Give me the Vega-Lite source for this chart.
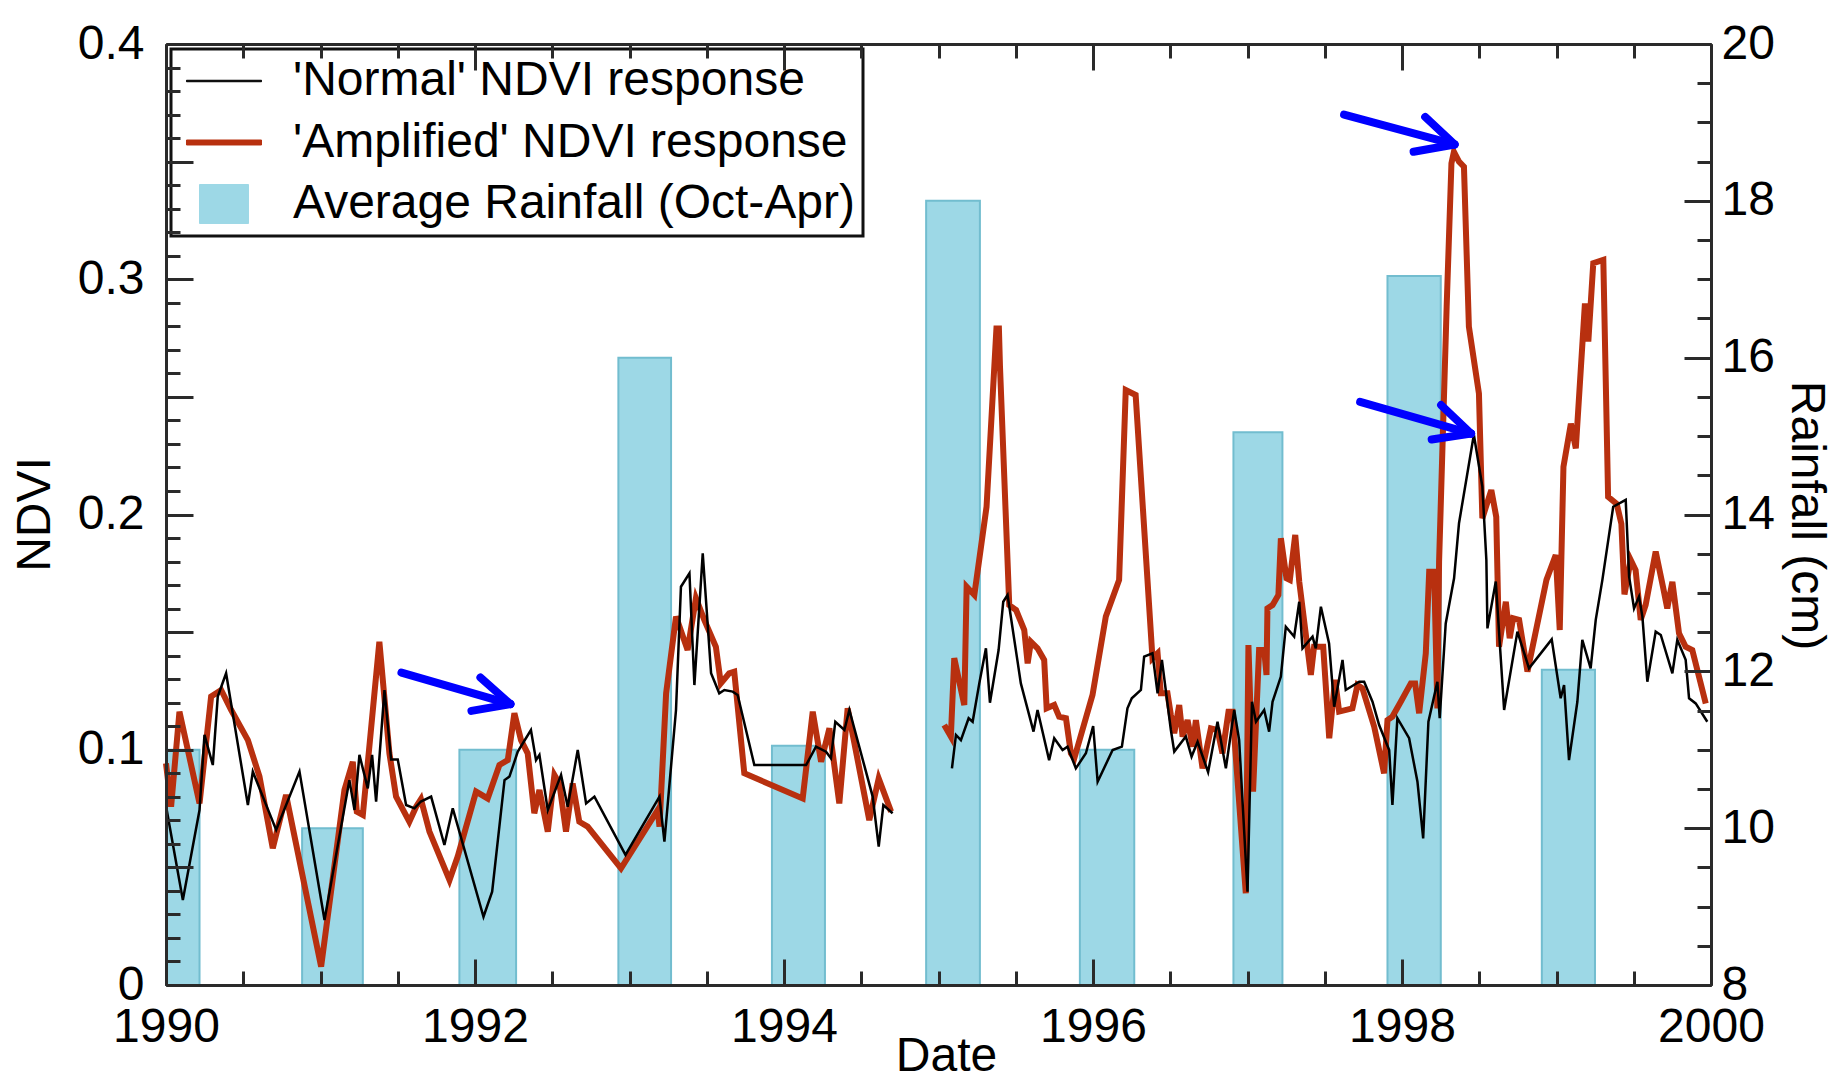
{
  "$schema": "https://vega.github.io/schema/vega-lite/v6.json",
  "width": 1545,
  "height": 941,
  "autosize": {"type": "none"},
  "padding": {"left": 166, "top": 44, "right": 126, "bottom": 102},
  "background": "#ffffff",
  "config": {
    "font": "Liberation Sans",
    "view": {"stroke": null},
    "axis": {
      "labelFont": "Liberation Sans", "labelFontSize": 48, "labelColor": "#000000",
      "titleFont": "Liberation Sans", "titleFontSize": 48, "titleFontWeight": "normal", "titleColor": "#000000",
      "domainColor": "#2a2a2a", "domainWidth": 3, "tickColor": "#2a2a2a", "tickWidth": 3,
      "grid": false, "labelOverlap": false, "labelFlush": false, "labelBound": false
    }
  },
  "datasets": {
    "rain": [
      {"start": 1990.0, "end": 1990.217, "rain": 11.0},
      {"start": 1990.881, "end": 1991.274, "rain": 10.0},
      {"start": 1991.899, "end": 1992.266, "rain": 11.0},
      {"start": 1992.928, "end": 1993.269, "rain": 16.0},
      {"start": 1993.922, "end": 1994.265, "rain": 11.05},
      {"start": 1994.920, "end": 1995.268, "rain": 18.0},
      {"start": 1995.915, "end": 1996.267, "rain": 11.0},
      {"start": 1996.909, "end": 1997.226, "rain": 15.05},
      {"start": 1997.906, "end": 1998.251, "rain": 17.04},
      {"start": 1998.905, "end": 1999.249, "rain": 12.02}
    ],
    "normal": [
      {"t":1990.001,"v":0.0758,"seg":1},{"t":1990.109,"v":0.0361,"seg":1},{"t":1990.217,"v":0.0744,"seg":1},
      {"t":1990.249,"v":0.1063,"seg":1},{"t":1990.303,"v":0.0935,"seg":1},{"t":1990.335,"v":0.1226,"seg":1},
      {"t":1990.389,"v":0.1325,"seg":1},{"t":1990.530,"v":0.0765,"seg":1},{"t":1990.562,"v":0.0907,"seg":1},
      {"t":1990.713,"v":0.0659,"seg":1},{"t":1990.864,"v":0.0907,"seg":1},{"t":1991.026,"v":0.0276,"seg":1},
      {"t":1991.187,"v":0.0871,"seg":1},{"t":1991.220,"v":0.0744,"seg":1},{"t":1991.252,"v":0.0978,"seg":1},
      {"t":1991.306,"v":0.0836,"seg":1},{"t":1991.334,"v":0.0978,"seg":1},{"t":1991.360,"v":0.0779,"seg":1},
      {"t":1991.414,"v":0.1254,"seg":1},{"t":1991.457,"v":0.0959,"seg":1},{"t":1991.500,"v":0.0959,"seg":1},
      {"t":1991.554,"v":0.0765,"seg":1},{"t":1991.608,"v":0.0751,"seg":1},{"t":1991.650,"v":0.0780,"seg":1},
      {"t":1991.716,"v":0.0801,"seg":1},{"t":1991.802,"v":0.0595,"seg":1},{"t":1991.856,"v":0.0751,"seg":1},
      {"t":1992.055,"v":0.0290,"seg":1},{"t":1992.111,"v":0.0397,"seg":1},{"t":1992.191,"v":0.0871,"seg":1},
      {"t":1992.223,"v":0.0886,"seg":1},{"t":1992.277,"v":0.0992,"seg":1},{"t":1992.362,"v":0.1084,"seg":1},
      {"t":1992.395,"v":0.0956,"seg":1},{"t":1992.417,"v":0.0978,"seg":1},{"t":1992.471,"v":0.0744,"seg":1},
      {"t":1992.557,"v":0.0893,"seg":1},{"t":1992.600,"v":0.0758,"seg":1},{"t":1992.665,"v":0.0999,"seg":1},
      {"t":1992.719,"v":0.0772,"seg":1},{"t":1992.773,"v":0.0801,"seg":1},{"t":1992.974,"v":0.0553,"seg":1},
      {"t":1993.194,"v":0.0801,"seg":1},{"t":1993.226,"v":0.0609,"seg":1},{"t":1993.301,"v":0.1169,"seg":1},
      {"t":1993.333,"v":0.1693,"seg":1},{"t":1993.388,"v":0.1750,"seg":1},{"t":1993.420,"v":0.1275,"seg":1},
      {"t":1993.474,"v":0.1835,"seg":1},{"t":1993.528,"v":0.1325,"seg":1},{"t":1993.581,"v":0.1240,"seg":1},
      {"t":1993.614,"v":0.1254,"seg":1},{"t":1993.668,"v":0.1247,"seg":1},{"t":1993.700,"v":0.1233,"seg":1},
      {"t":1993.808,"v":0.0935,"seg":1},{"t":1994.143,"v":0.0935,"seg":1},{"t":1994.207,"v":0.1013,"seg":1},
      {"t":1994.272,"v":0.0992,"seg":1},{"t":1994.304,"v":0.0964,"seg":1},{"t":1994.332,"v":0.1119,"seg":1},
      {"t":1994.391,"v":0.1084,"seg":1},{"t":1994.423,"v":0.1169,"seg":1},{"t":1994.574,"v":0.0801,"seg":1},
      {"t":1994.613,"v":0.0588,"seg":1},{"t":1994.643,"v":0.0765,"seg":1},{"t":1994.703,"v":0.0730,"seg":1},
      {"t":1995.087,"v":0.0921,"seg":2},{"t":1995.113,"v":0.1063,"seg":2},{"t":1995.145,"v":0.1041,"seg":2},
      {"t":1995.195,"v":0.1134,"seg":2},{"t":1995.221,"v":0.1119,"seg":2},{"t":1995.264,"v":0.1282,"seg":2},
      {"t":1995.307,"v":0.1431,"seg":2},{"t":1995.333,"v":0.1200,"seg":2},{"t":1995.389,"v":0.1424,"seg":2},
      {"t":1995.419,"v":0.1629,"seg":2},{"t":1995.447,"v":0.1658,"seg":2},{"t":1995.533,"v":0.1282,"seg":2},
      {"t":1995.615,"v":0.1077,"seg":2},{"t":1995.641,"v":0.1169,"seg":2},{"t":1995.716,"v":0.0956,"seg":2},
      {"t":1995.749,"v":0.1049,"seg":2},{"t":1995.803,"v":0.0999,"seg":2},{"t":1995.835,"v":0.1013,"seg":2},
      {"t":1995.889,"v":0.0921,"seg":2},{"t":1995.954,"v":0.0985,"seg":2},{"t":1996.001,"v":0.1101,"seg":2},
      {"t":1996.030,"v":0.0864,"seg":2},{"t":1996.127,"v":0.0999,"seg":2},{"t":1996.187,"v":0.1013,"seg":2},
      {"t":1996.223,"v":0.1176,"seg":2},{"t":1996.251,"v":0.1219,"seg":2},{"t":1996.310,"v":0.1254,"seg":2},
      {"t":1996.331,"v":0.1396,"seg":2},{"t":1996.385,"v":0.1410,"seg":2},{"t":1996.418,"v":0.1240,"seg":2},
      {"t":1996.446,"v":0.1382,"seg":2},{"t":1996.504,"v":0.1084,"seg":2},{"t":1996.526,"v":0.0992,"seg":2},
      {"t":1996.601,"v":0.1056,"seg":2},{"t":1996.638,"v":0.0971,"seg":2},{"t":1996.677,"v":0.1034,"seg":2},
      {"t":1996.745,"v":0.0905,"seg":2},{"t":1996.806,"v":0.1119,"seg":2},{"t":1996.860,"v":0.0921,"seg":2},
      {"t":1996.914,"v":0.1169,"seg":2},{"t":1996.946,"v":0.1041,"seg":2},{"t":1997.000,"v":0.0397,"seg":2},
      {"t":1997.029,"v":0.1204,"seg":2},{"t":1997.055,"v":0.1119,"seg":2},{"t":1997.108,"v":0.1169,"seg":2},
      {"t":1997.140,"v":0.1077,"seg":2},{"t":1997.162,"v":0.1204,"seg":2},{"t":1997.216,"v":0.1311,"seg":2},
      {"t":1997.248,"v":0.1523,"seg":2},{"t":1997.302,"v":0.1481,"seg":2},{"t":1997.335,"v":0.1629,"seg":2},
      {"t":1997.356,"v":0.1431,"seg":2},{"t":1997.421,"v":0.1481,"seg":2},{"t":1997.442,"v":0.1431,"seg":2},
      {"t":1997.475,"v":0.1608,"seg":2},{"t":1997.528,"v":0.1452,"seg":2},{"t":1997.561,"v":0.1183,"seg":2},
      {"t":1997.615,"v":0.1382,"seg":2},{"t":1997.636,"v":0.1254,"seg":2},{"t":1997.723,"v":0.1289,"seg":2},
      {"t":1997.755,"v":0.1289,"seg":2},{"t":1997.809,"v":0.1204,"seg":2},{"t":1997.852,"v":0.1105,"seg":2},
      {"t":1997.917,"v":0.0999,"seg":2},{"t":1997.938,"v":0.0765,"seg":2},{"t":1997.970,"v":0.1134,"seg":2},
      {"t":1998.046,"v":0.1049,"seg":2},{"t":1998.100,"v":0.0864,"seg":2},{"t":1998.137,"v":0.0623,"seg":2},
      {"t":1998.171,"v":0.1119,"seg":2},{"t":1998.229,"v":0.1289,"seg":2},{"t":1998.244,"v":0.1134,"seg":2},
      {"t":1998.283,"v":0.1537,"seg":2},{"t":1998.337,"v":0.1729,"seg":2},{"t":1998.369,"v":0.1963,"seg":2},
      {"t":1998.465,"v":0.2339,"seg":2},{"t":1998.520,"v":0.2119,"seg":2},{"t":1998.546,"v":0.1807,"seg":2},
      {"t":1998.553,"v":0.1516,"seg":2},{"t":1998.607,"v":0.1715,"seg":2},{"t":1998.661,"v":0.1169,"seg":2},
      {"t":1998.747,"v":0.1502,"seg":2},{"t":1998.822,"v":0.1346,"seg":2},{"t":1998.969,"v":0.1469,"seg":2},
      {"t":1999.027,"v":0.1219,"seg":2},{"t":1999.049,"v":0.1275,"seg":2},{"t":1999.081,"v":0.0956,"seg":2},
      {"t":1999.135,"v":0.1204,"seg":2},{"t":1999.167,"v":0.1467,"seg":2},{"t":1999.221,"v":0.1346,"seg":2},
      {"t":1999.254,"v":0.1552,"seg":2},{"t":1999.297,"v":0.1722,"seg":2},{"t":1999.367,"v":0.2033,"seg":2},
      {"t":1999.448,"v":0.2062,"seg":2},{"t":1999.470,"v":0.1736,"seg":2},{"t":1999.502,"v":0.1601,"seg":2},
      {"t":1999.534,"v":0.1651,"seg":2},{"t":1999.556,"v":0.1566,"seg":2},{"t":1999.588,"v":0.1289,"seg":2},
      {"t":1999.642,"v":0.1502,"seg":2},{"t":1999.675,"v":0.1488,"seg":2},{"t":1999.750,"v":0.1325,"seg":2},
      {"t":1999.782,"v":0.1467,"seg":2},{"t":1999.836,"v":0.1382,"seg":2},{"t":1999.858,"v":0.1219,"seg":2},
      {"t":1999.901,"v":0.1197,"seg":2},{"t":1999.976,"v":0.1119,"seg":2}
    ],
    "amplified": [
      {"t":1990.000,"v":0.0942,"seg":1},{"t":1990.033,"v":0.0758,"seg":1},{"t":1990.087,"v":0.1162,"seg":1},
      {"t":1990.217,"v":0.0772,"seg":1},{"t":1990.292,"v":0.1226,"seg":1},{"t":1990.357,"v":0.1254,"seg":1},
      {"t":1990.422,"v":0.1169,"seg":1},{"t":1990.530,"v":0.1041,"seg":1},{"t":1990.605,"v":0.0886,"seg":1},
      {"t":1990.691,"v":0.0581,"seg":1},{"t":1990.777,"v":0.0808,"seg":1},{"t":1991.004,"v":0.0078,"seg":1},
      {"t":1991.155,"v":0.0829,"seg":1},{"t":1991.209,"v":0.0949,"seg":1},{"t":1991.235,"v":0.0737,"seg":1},
      {"t":1991.274,"v":0.0723,"seg":1},{"t":1991.381,"v":0.1459,"seg":1},{"t":1991.446,"v":0.0985,"seg":1},
      {"t":1991.489,"v":0.0801,"seg":1},{"t":1991.575,"v":0.0694,"seg":1},{"t":1991.619,"v":0.0758,"seg":1},
      {"t":1991.650,"v":0.0790,"seg":1},{"t":1991.705,"v":0.0652,"seg":1},{"t":1991.835,"v":0.0446,"seg":1},
      {"t":1991.888,"v":0.0546,"seg":1},{"t":1992.007,"v":0.0822,"seg":1},{"t":1992.082,"v":0.0793,"seg":1},
      {"t":1992.158,"v":0.0935,"seg":1},{"t":1992.212,"v":0.0956,"seg":1},{"t":1992.255,"v":0.1155,"seg":1},
      {"t":1992.298,"v":0.1041,"seg":1},{"t":1992.341,"v":0.0985,"seg":1},{"t":1992.384,"v":0.0730,"seg":1},
      {"t":1992.417,"v":0.0829,"seg":1},{"t":1992.471,"v":0.0652,"seg":1},{"t":1992.514,"v":0.0893,"seg":1},
      {"t":1992.546,"v":0.0857,"seg":1},{"t":1992.589,"v":0.0652,"seg":1},{"t":1992.632,"v":0.0857,"seg":1},
      {"t":1992.675,"v":0.0694,"seg":1},{"t":1992.729,"v":0.0673,"seg":1},{"t":1992.945,"v":0.0496,"seg":1},
      {"t":1993.183,"v":0.0744,"seg":1},{"t":1993.194,"v":0.0673,"seg":1},{"t":1993.237,"v":0.1240,"seg":1},
      {"t":1993.301,"v":0.1566,"seg":1},{"t":1993.376,"v":0.1424,"seg":1},{"t":1993.430,"v":0.1644,"seg":1},
      {"t":1993.484,"v":0.1552,"seg":1},{"t":1993.559,"v":0.1438,"seg":1},{"t":1993.591,"v":0.1282,"seg":1},
      {"t":1993.645,"v":0.1325,"seg":1},{"t":1993.678,"v":0.1332,"seg":1},{"t":1993.743,"v":0.0900,"seg":1},
      {"t":1994.121,"v":0.0793,"seg":1},{"t":1994.186,"v":0.1162,"seg":1},{"t":1994.240,"v":0.0949,"seg":1},
      {"t":1994.294,"v":0.1091,"seg":1},{"t":1994.358,"v":0.0772,"seg":1},{"t":1994.412,"v":0.1176,"seg":1},
      {"t":1994.552,"v":0.0701,"seg":1},{"t":1994.613,"v":0.0878,"seg":1},{"t":1994.693,"v":0.0737,"seg":1},
      {"t":1995.037,"v":0.1105,"seg":2},{"t":1995.080,"v":0.1056,"seg":2},{"t":1995.102,"v":0.1389,"seg":2},
      {"t":1995.167,"v":0.1190,"seg":2},{"t":1995.182,"v":0.1693,"seg":2},{"t":1995.232,"v":0.1658,"seg":2},
      {"t":1995.311,"v":0.2033,"seg":2},{"t":1995.375,"v":0.2791,"seg":2},{"t":1995.391,"v":0.2791,"seg":2},
      {"t":1995.398,"v":0.2628,"seg":2},{"t":1995.458,"v":0.1615,"seg":2},{"t":1995.502,"v":0.1594,"seg":2},
      {"t":1995.555,"v":0.1509,"seg":2},{"t":1995.577,"v":0.1367,"seg":2},{"t":1995.598,"v":0.1459,"seg":2},
      {"t":1995.641,"v":0.1431,"seg":2},{"t":1995.684,"v":0.1382,"seg":2},{"t":1995.700,"v":0.1176,"seg":2},
      {"t":1995.749,"v":0.1190,"seg":2},{"t":1995.781,"v":0.1141,"seg":2},{"t":1995.825,"v":0.1134,"seg":2},
      {"t":1995.857,"v":0.0985,"seg":2},{"t":1995.879,"v":0.0964,"seg":2},{"t":1995.997,"v":0.1233,"seg":2},
      {"t":1996.083,"v":0.1566,"seg":2},{"t":1996.169,"v":0.1722,"seg":2},{"t":1996.212,"v":0.2529,"seg":2},
      {"t":1996.276,"v":0.2508,"seg":2},{"t":1996.385,"v":0.1389,"seg":2},{"t":1996.418,"v":0.1410,"seg":2},
      {"t":1996.439,"v":0.1240,"seg":2},{"t":1996.482,"v":0.1240,"seg":2},{"t":1996.504,"v":0.1148,"seg":2},
      {"t":1996.526,"v":0.1070,"seg":2},{"t":1996.558,"v":0.1190,"seg":2},{"t":1996.580,"v":0.1056,"seg":2},
      {"t":1996.612,"v":0.1126,"seg":2},{"t":1996.645,"v":0.1013,"seg":2},{"t":1996.666,"v":0.1126,"seg":2},
      {"t":1996.709,"v":0.0921,"seg":2},{"t":1996.763,"v":0.1091,"seg":2},{"t":1996.806,"v":0.1084,"seg":2},
      {"t":1996.838,"v":0.0985,"seg":2},{"t":1996.877,"v":0.1162,"seg":2},{"t":1996.903,"v":0.1162,"seg":2},
      {"t":1996.989,"v":0.0390,"seg":2},{"t":1997.006,"v":0.1445,"seg":2},{"t":1997.036,"v":0.0822,"seg":2},
      {"t":1997.075,"v":0.1424,"seg":2},{"t":1997.108,"v":0.1424,"seg":2},{"t":1997.123,"v":0.1318,"seg":2},
      {"t":1997.129,"v":0.1601,"seg":2},{"t":1997.162,"v":0.1615,"seg":2},{"t":1997.200,"v":0.1658,"seg":2},
      {"t":1997.216,"v":0.1899,"seg":2},{"t":1997.252,"v":0.1729,"seg":2},{"t":1997.274,"v":0.1722,"seg":2},
      {"t":1997.309,"v":0.1913,"seg":2},{"t":1997.335,"v":0.1714,"seg":2},{"t":1997.410,"v":0.1318,"seg":2},
      {"t":1997.431,"v":0.1438,"seg":2},{"t":1997.490,"v":0.1438,"seg":2},{"t":1997.529,"v":0.1049,"seg":2},
      {"t":1997.567,"v":0.1297,"seg":2},{"t":1997.593,"v":0.1162,"seg":2},{"t":1997.679,"v":0.1176,"seg":2},
      {"t":1997.712,"v":0.1275,"seg":2},{"t":1997.744,"v":0.1261,"seg":2},{"t":1997.820,"v":0.1098,"seg":2},
      {"t":1997.884,"v":0.0900,"seg":2},{"t":1997.906,"v":0.1126,"seg":2},{"t":1997.938,"v":0.1141,"seg":2},
      {"t":1997.992,"v":0.1204,"seg":2},{"t":1998.057,"v":0.1282,"seg":2},{"t":1998.085,"v":0.1282,"seg":2},
      {"t":1998.111,"v":0.1155,"seg":2},{"t":1998.154,"v":0.1410,"seg":2},{"t":1998.176,"v":0.1757,"seg":2},
      {"t":1998.208,"v":0.1757,"seg":2},{"t":1998.229,"v":0.1176,"seg":2},{"t":1998.240,"v":0.1800,"seg":2},
      {"t":1998.289,"v":0.2883,"seg":2},{"t":1998.320,"v":0.3493,"seg":2},{"t":1998.336,"v":0.3542,"seg":2},
      {"t":1998.369,"v":0.3500,"seg":2},{"t":1998.401,"v":0.3478,"seg":2},{"t":1998.433,"v":0.2798,"seg":2},
      {"t":1998.498,"v":0.2514,"seg":2},{"t":1998.520,"v":0.1984,"seg":2},{"t":1998.578,"v":0.2104,"seg":2},
      {"t":1998.610,"v":0.1990,"seg":2},{"t":1998.628,"v":0.1438,"seg":2},{"t":1998.672,"v":0.1629,"seg":2},
      {"t":1998.697,"v":0.1474,"seg":2},{"t":1998.719,"v":0.1559,"seg":2},{"t":1998.758,"v":0.1552,"seg":2},
      {"t":1998.812,"v":0.1332,"seg":2},{"t":1998.935,"v":0.1722,"seg":2},{"t":1998.995,"v":0.1828,"seg":2},
      {"t":1999.021,"v":0.1509,"seg":2},{"t":1999.045,"v":0.2203,"seg":2},{"t":1999.093,"v":0.2386,"seg":2},
      {"t":1999.125,"v":0.2281,"seg":2},{"t":1999.184,"v":0.2897,"seg":2},{"t":1999.206,"v":0.2735,"seg":2},
      {"t":1999.238,"v":0.3068,"seg":2},{"t":1999.303,"v":0.3082,"seg":2},{"t":1999.334,"v":0.2075,"seg":2},
      {"t":1999.390,"v":0.2045,"seg":2},{"t":1999.420,"v":0.1960,"seg":2},{"t":1999.440,"v":0.1660,"seg":2},
      {"t":1999.480,"v":0.1807,"seg":2},{"t":1999.512,"v":0.1764,"seg":2},{"t":1999.545,"v":0.1552,"seg":2},
      {"t":1999.577,"v":0.1615,"seg":2},{"t":1999.642,"v":0.1842,"seg":2},{"t":1999.689,"v":0.1693,"seg":2},
      {"t":1999.717,"v":0.1601,"seg":2},{"t":1999.750,"v":0.1714,"seg":2},{"t":1999.793,"v":0.1495,"seg":2},
      {"t":1999.836,"v":0.1438,"seg":2},{"t":1999.879,"v":0.1424,"seg":2},{"t":1999.966,"v":0.1197,"seg":2}
    ],
    "arrows": [
      {"t1":1991.524,"n1":0.1328,"t2":1992.229,"n2":0.1194},
      {"t1":1992.035,"n1":0.1307,"t2":1992.229,"n2":0.1194},
      {"t1":1991.977,"n1":0.1165,"t2":1992.229,"n2":0.1194},
      {"t1":1997.625,"n1":0.3700,"t2":1998.340,"n2":0.3573},
      {"t1":1998.150,"n1":0.3690,"t2":1998.340,"n2":0.3573},
      {"t1":1998.075,"n1":0.3542,"t2":1998.340,"n2":0.3573},
      {"t1":1997.729,"n1":0.2479,"t2":1998.447,"n2":0.2344},
      {"t1":1998.253,"n1":0.2465,"t2":1998.447,"n2":0.2344},
      {"t1":1998.192,"n1":0.2319,"t2":1998.447,"n2":0.2344}
    ]
  },
  "layer": [
    {
      "data": {"name": "rain"},
      "mark": {"type": "bar", "stroke": "#72bdcf", "strokeWidth": 2},
      "encoding": {
        "x": {
          "field": "start", "type": "quantitative",
          "scale": {"domain": [1990, 2000], "nice": false, "zero": false},
          "axis": {"orient": "top", "title": null, "labels": false, "values": [1990,1992,1994,1996,1998,2000], "tickSize": -26, "zindex": 1}
        },
        "x2": {"field": "end"},
        "y": {
          "field": "rain", "type": "quantitative",
          "scale": {"domain": [8, 20], "nice": false, "zero": false},
          "axis": {
            "orient": "right", "title": "Rainfall (cm)",
            "titleAngle": 90, "titleBaseline": "middle", "titleX": 94, "titleY": 471,
            "values": [8,10,12,14,16,18,20], "format": "d",
            "tickSize": -27, "labelPadding": 37, "labelBaseline": "middle", "zindex": 1
          }
        },
        "y2": {"datum": 8},
        "color": {
          "datum": "Average Rainfall (Oct-Apr)", "type": "nominal",
          "scale": {
            "domain": ["'Normal' NDVI response", "'Amplified' NDVI response", "Average Rainfall (Oct-Apr)"],
            "range": ["#000000", "#b8300f", "#9dd8e6"]
          }
        }
      }
    },
    {
      "data": {"name": "amplified"},
      "mark": {"type": "line", "strokeWidth": 6},
      "encoding": {
        "x": {
          "field": "t", "type": "quantitative",
          "scale": {"domain": [1990, 2000], "nice": false, "zero": false},
          "axis": {"orient": "bottom", "title": null, "labels": false, "domain": false, "tickSize": -14, "zindex": 1,
            "values": [1990,1990.5,1991,1991.5,1992,1992.5,1993,1993.5,1994,1994.5,1995,1995.5,1996,1996.5,1997,1997.5,1998,1998.5,1999,1999.5,2000]}
        },
        "y": {
          "field": "v", "type": "quantitative",
          "scale": {"domain": [0, 0.4], "nice": false, "zero": false},
          "axis": {"orient": "left", "title": null, "labels": false, "domain": false, "tickSize": -14, "zindex": 1,
            "values": [0,0.01,0.02,0.03,0.04,0.05,0.06,0.07,0.08,0.09,0.1,0.11,0.12,0.13,0.14,0.15,0.16,0.17,0.18,0.19,0.2,0.21,0.22,0.23,0.24,0.25,0.26,0.27,0.28,0.29,0.3,0.31,0.32,0.33,0.34,0.35,0.36,0.37,0.38,0.39,0.4]}
        },
        "detail": {"field": "seg", "type": "nominal"},
        "color": {"datum": "'Amplified' NDVI response", "type": "nominal"}
      }
    },
    {
      "data": {"name": "normal"},
      "mark": {"type": "line", "strokeWidth": 2.5},
      "encoding": {
        "x": {
          "field": "t", "type": "quantitative",
          "scale": {"domain": [1990, 2000], "nice": false, "zero": false},
          "axis": {
            "orient": "bottom", "title": "Date",
            "titleBaseline": "alphabetic", "titleY": 85, "titleX": 780,
            "values": [1990,1992,1994,1996,1998,2000], "format": "d",
            "tickSize": -26, "labelPadding": 44, "zindex": 1
          }
        },
        "y": {
          "field": "v", "type": "quantitative",
          "scale": {"domain": [0, 0.4], "nice": false, "zero": false},
          "axis": {
            "orient": "left", "title": "NDVI",
            "titleAngle": 270, "titleBaseline": "middle", "titleX": -131, "titleY": 470,
            "values": [0,0.05,0.1,0.15,0.2,0.25,0.3,0.35,0.4],
            "labelExpr": "round(datum.value * 100) % 10 == 0 ? (datum.value == 0 ? '0' : format(datum.value, '.1f')) : ''",
            "tickSize": -27, "labelPadding": 49, "labelBaseline": "middle", "zindex": 1
          }
        },
        "detail": {"field": "seg", "type": "nominal"},
        "color": {
          "datum": "'Normal' NDVI response", "type": "nominal",
          "legend": {
            "title": null, "orient": "none", "legendX": 5, "legendY": 5, "direction": "vertical",
            "strokeColor": "#111111", "fillColor": "#ffffff", "padding": 8, "cornerRadius": 0,
            "symbolType": "stroke", "symbolSize": 1156, "symbolStrokeWidth": 1, "symbolOffset": 21,
            "labelFont": "Liberation Sans", "labelFontSize": 48, "labelColor": "#000000",
            "labelOffset": 45, "labelLimit": 2000, "rowPadding": 13.5,
            "encode": {
              "legend": {"update": {"strokeWidth": {"value": 3}}},
              "labels": {"update": {"text": {"signal": "datum.label + '\u00a0\u00a0\u00a0\u00a0\u00a0'"}}},
              "symbols": {"update": {
                "shape": [
                  {"test": "indexof(datum.value, 'Rainfall') >= 0", "value": "M-1.441,-1.147H1.441V1.147H-1.441Z"},
                  {"test": "indexof(datum.value, 'Normal') >= 0", "value": "M-2.206,-0.044H2.206V0.044H-2.206Z"},
                  {"value": "M-2.206,-0.147H2.206V0.147H-2.206Z"}
                ],
                "fill": [
                  {"test": "indexof(datum.value, 'Rainfall') >= 0", "value": "#9dd8e6"},
                  {"test": "indexof(datum.value, 'Normal') >= 0", "value": "#000000"},
                  {"value": "#b8300f"}
                ],
                "stroke": [
                  {"test": "indexof(datum.value, 'Rainfall') >= 0", "value": "#7cc3d3"},
                  {"test": "indexof(datum.value, 'Normal') >= 0", "value": "#000000"},
                  {"value": "#b8300f"}
                ],
                "opacity": {"value": 1}
              }}
            }
          }
        }
      }
    },
    {
      "data": {"name": "arrows"},
      "mark": {"type": "rule", "color": "#0000ff", "strokeWidth": 8, "strokeCap": "round"},
      "encoding": {
        "x": {
          "field": "t1", "type": "quantitative",
          "scale": {"domain": [1990, 2000], "nice": false, "zero": false},
          "axis": {"orient": "top", "title": null, "labels": false, "domain": false, "tickSize": -14, "zindex": 1,
            "values": [1990,1990.5,1991,1991.5,1992,1992.5,1993,1993.5,1994,1994.5,1995,1995.5,1996,1996.5,1997,1997.5,1998,1998.5,1999,1999.5,2000]}
        },
        "x2": {"field": "t2"},
        "y": {
          "field": "n1", "type": "quantitative",
          "scale": {"domain": [0, 0.4], "nice": false, "zero": false},
          "axis": {"orient": "right", "title": null, "labels": false, "domain": false, "tickSize": -14, "zindex": 1,
            "values": [0,0.0166667,0.0333333,0.05,0.0666667,0.0833333,0.1,0.1166667,0.1333333,0.15,0.1666667,0.1833333,0.2,0.2166667,0.2333333,0.25,0.2666667,0.2833333,0.3,0.3166667,0.3333333,0.35,0.3666667,0.3833333,0.4]}
        },
        "y2": {"field": "n2"}
      }
    }
  ],
  "resolve": {
    "scale": {"y": "independent"},
    "axis": {"x": "independent", "y": "independent"}
  }
}
